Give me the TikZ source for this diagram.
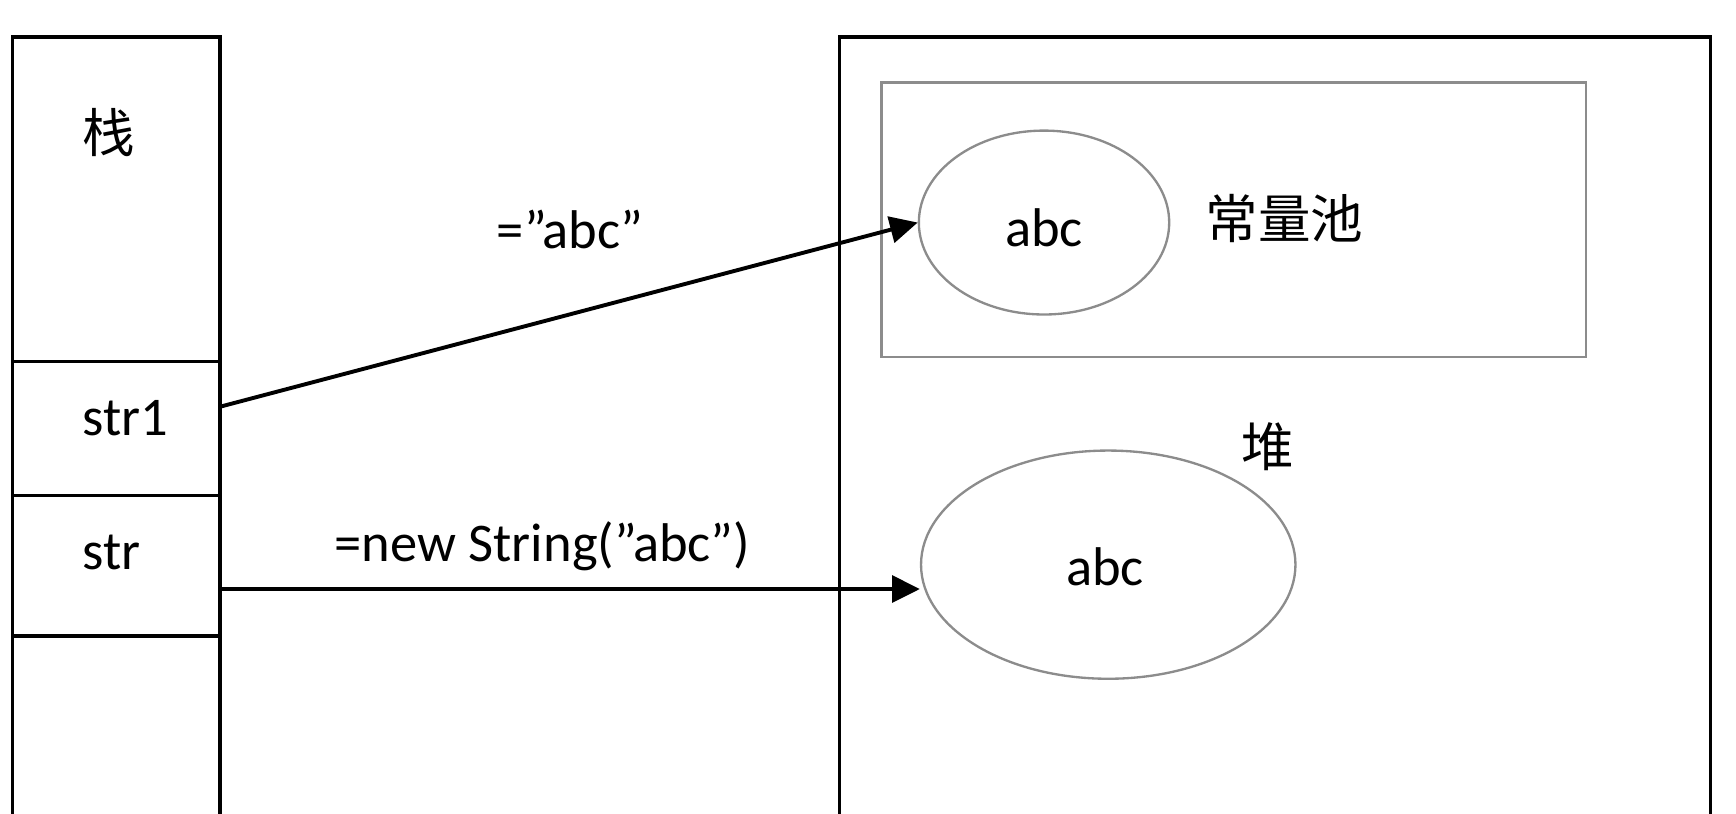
\documentclass[tikz,border=0pt]{standalone}
\usepackage{fontspec}
\setmainfont{Carlito}
\newfontfamily\cjk{Noto Sans CJK SC}
\usetikzlibrary{arrows.meta,shapes.geometric}
\begin{document}
\begin{tikzpicture}[x=0.01cm,y=-0.01cm,
  cell/.style={draw=black,line width=0.85pt,minimum width=1.87cm,inner sep=0pt,anchor=north west},
  pool/.style={draw=black!45,line width=0.7pt},
  obj/.style={draw=black!45,line width=0.6pt,ellipse,inner sep=0pt},
  lbl/.style={font=\fontsize{14}{16}\selectfont,inner sep=0pt},
  zh/.style={font=\cjk\fontsize{13.5}{16}\selectfont,inner sep=0pt},
  ptr/.style={draw=black,line width=1pt,-{Triangle[length=0.25cm,width=0.24cm]}}]
\useasboundingbox (0,0) rectangle (1568,735);
\clip (0,0) rectangle (1568,735);
% stack
\node[cell,minimum height=2.93cm] (top) at (10,32) {};
\node[cell,minimum height=1.21cm] (c1) at (10,325) {};
\node[cell,minimum height=1.27cm] (c2) at (10,446) {};
\node[cell,minimum height=2.2cm] (c3) at (10,573) {};
\node[zh] (stk) at (98,120) {栈};
\node[lbl] (s1) at (113,378) {str1};
\node[lbl] (s2) at (101,499) {str};
% heap
\node[draw=black,line width=0.85pt,minimum width=7.86cm,minimum height=8cm,anchor=north west,inner sep=0pt] (heap) at (757,32) {};
\node[pool,minimum width=6.36cm,minimum height=2.48cm,anchor=north west,inner sep=0pt] (cp) at (795,73) {};
\node[obj,minimum width=2.26cm,minimum height=1.66cm] (e1) at (943,201) {};
\node[lbl] (a1) at (943,206) {abc};
\node[zh] (cpl) at (1160,197) {常量池};
\node[zh] (hp) at (1145,403) {堆};
\node[obj,minimum width=3.38cm,minimum height=2.06cm] (e2) at (1001,510) {};
\node[lbl] (a2) at (998,512) {abc};
% labels
\node[lbl] (l1) at (515,207) {=”abc”};
\node[lbl] (l2) at (490,493) {=new String(”abc”)};
% arrows
\coordinate (p1) at (c1.east |- 0,367);
\coordinate (p2) at (c2.east |- 0,532);
\draw[ptr] (p1) -- (e1.west);
\draw[ptr] (p2) -- (p2 -| e2.west);
\end{tikzpicture}
\end{document}
